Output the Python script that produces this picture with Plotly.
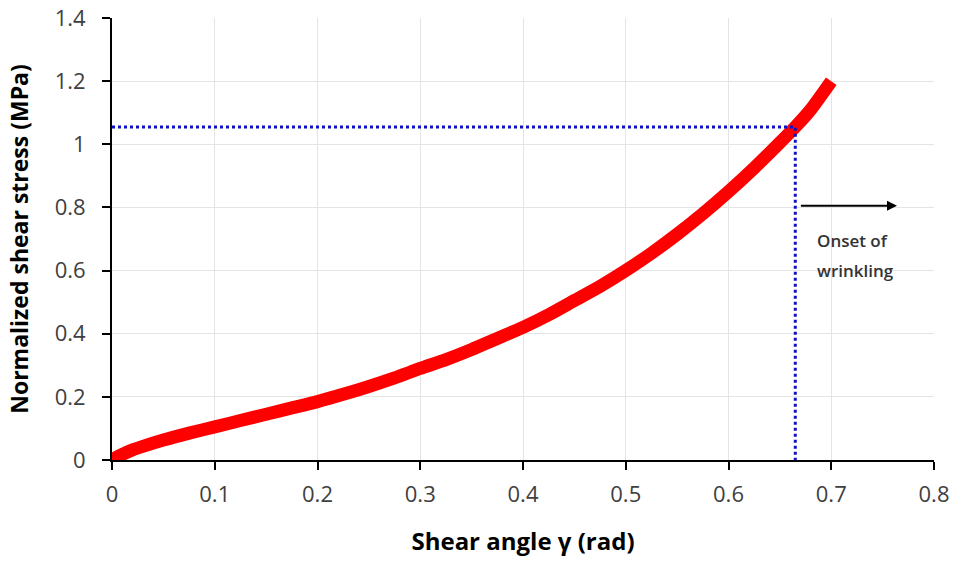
import plotly.graph_objects as go

shear_angle = [0.0, 0.005, 0.01, 0.02, 0.03, 0.05, 0.075, 0.1, 0.125, 0.15, 0.175, 0.2, 0.225, 0.25,
               0.275, 0.3, 0.325, 0.35, 0.375, 0.4, 0.425, 0.45, 0.475, 0.5, 0.525, 0.55,
               0.575, 0.6, 0.625, 0.65, 0.665, 0.68, 0.7]
shear_stress = [0.0, 0.01, 0.018, 0.032, 0.043, 0.063, 0.085, 0.105, 0.125, 0.145, 0.165, 0.185, 0.208, 0.233,
                0.26, 0.29, 0.318, 0.35, 0.385, 0.42, 0.46, 0.505, 0.55, 0.6, 0.655, 0.715,
                0.78, 0.85, 0.925, 1.005, 1.055, 1.11, 1.2]

onset_x = 0.665
onset_y = 1.055
arrow_start = [0.669, 0.805]
arrow_end = [0.764, 0.805]
label_lines = ["Onset of", "wrinkling"]
label_x = 0.684
label_y = [0.694, 0.599]

font_family = "Open Sans, Lato, Liberation Sans, sans-serif"

fig = go.Figure()
fig.add_trace(go.Scatter(x=shear_angle, y=shear_stress, mode="lines",
                         line=dict(color="#ff0000", width=13, shape="spline", smoothing=0.6),
                         showlegend=False))
fig.add_trace(go.Scatter(x=[0, onset_x, onset_x], y=[onset_y, onset_y, 0], mode="lines",
                         line=dict(color="#1010c8", width=3, dash="dot"), showlegend=False))

fig.add_annotation(x=arrow_end[0], y=arrow_end[1], ax=arrow_start[0], ay=arrow_start[1],
                   xref="x", yref="y", axref="x", ayref="y", showarrow=True,
                   arrowhead=2, arrowsize=1, arrowwidth=2, arrowcolor="#000000", text="")
for txt, yy in zip(label_lines, label_y):
    fig.add_annotation(x=label_x, y=yy, xref="x", yref="y", showarrow=False,
                       text=txt, xanchor="left",
                       font=dict(family="Open Sans SemiBold, Open Sans, sans-serif", weight=600,
                                 size=17, color="#333333"))

fig.update_layout(
    width=954, height=561,
    margin=dict(l=112, r=20, t=18, b=101),
    plot_bgcolor="white", paper_bgcolor="white",
    font=dict(family=font_family, color="#404040"),
)
fig.update_xaxes(range=[0, 0.8], dtick=0.1, tick0=0, showgrid=True, gridcolor="#e4e4e4",
                 showline=True, linecolor="#000000", linewidth=2, zeroline=False, automargin=False,
                 ticks="outside", ticklen=8, tickwidth=2, tickcolor="#000000",
                 ticklabelstandoff=6,
                 tickfont=dict(size=22, color="#404040"),
                 title=dict(text="<b>Shear angle γ (rad)</b>", font=dict(size=24, color="#000000"), standoff=26))
fig.update_yaxes(range=[0, 1.4], dtick=0.2, tick0=0, showgrid=True, gridcolor="#e4e4e4",
                 showline=True, linecolor="#000000", linewidth=2, zeroline=False, automargin=False,
                 ticks="outside", ticklen=8, tickwidth=2, tickcolor="#000000",
                 ticklabelstandoff=12,
                 tickfont=dict(size=22, color="#404040"),
                 title=dict(text="<b>Normalized shear stress (MPa)</b>", font=dict(size=23, color="#000000"), standoff=20))

fig.write_html("out.html")
